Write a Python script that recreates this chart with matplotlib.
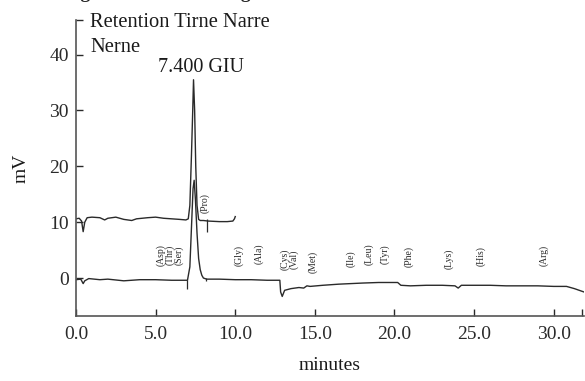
import matplotlib
matplotlib.use("Agg")
import matplotlib.pyplot as plt

plt.rcParams['font.family'] = ['Liberation Serif', 'DejaVu Serif']

# Upper trace (offset ~10 mV)
upper_t = [0.0, 0.2, 0.35, 0.45, 0.55, 0.7, 1.0, 1.5, 1.8, 2.0, 2.5, 3.0, 3.5, 3.8,
           4.5, 5.0, 5.5, 6.0, 6.5, 6.9, 7.05, 7.15, 7.25, 7.33, 7.38, 7.45, 7.52,
           7.6, 7.7, 7.8, 8.0, 8.3, 9.0, 9.5, 9.85, 9.95, 10.0]
upper_v = [10.6, 10.7, 10.2, 8.3, 10.0, 10.8, 10.9, 10.8, 10.4, 10.7, 10.9, 10.5, 10.3, 10.6,
           10.8, 10.9, 10.7, 10.6, 10.5, 10.4, 10.6, 13.0, 22.0, 30.0, 35.5, 30.0, 20.0,
           13.0, 10.5, 10.3, 10.3, 10.2, 10.1, 10.1, 10.2, 10.6, 11.0]

# Lower trace (baseline ~0 mV)
lower_t = [0.0, 0.3, 0.45, 0.55, 0.8, 1.5, 2.0, 3.0, 3.5, 4.0, 5.0, 6.0, 7.0,
           7.15, 7.25, 7.35, 7.42, 7.5, 7.6, 7.7, 7.8, 7.9, 8.0, 8.2, 9.0, 10.0,
           11.0, 12.0, 12.8, 12.85, 12.95, 13.1, 13.5, 14.0, 14.3, 14.5, 14.7,
           15.5, 16.5, 18.0, 19.0, 20.2, 20.4, 21.0, 22.0, 23.0, 23.8, 24.0, 24.2,
           25.0, 26.0, 27.0, 28.0, 29.0, 30.0, 30.8, 31.3, 31.9]
lower_v = [-0.3, -0.2, -1.0, -0.5, -0.1, -0.3, -0.2, -0.5, -0.4, -0.3, -0.3, -0.4, -0.4,
           2.0, 9.0, 16.0, 17.5, 14.0, 8.0, 3.5, 1.5, 0.5, 0.0, -0.2, -0.2, -0.3,
           -0.3, -0.4, -0.4, -2.5, -3.3, -2.2, -1.9, -1.7, -1.8, -1.4, -1.5,
           -1.3, -1.1, -0.9, -0.8, -0.8, -1.3, -1.4, -1.3, -1.3, -1.4, -1.8, -1.3,
           -1.3, -1.3, -1.4, -1.4, -1.4, -1.5, -1.5, -1.9, -2.5]

# Integration event markers (time, top, bottom)
marker_t = [7.0, 8.2, 8.15]
marker_top = [-0.4, 10.6, 0.0]
marker_bot = [-2.0, 8.2, -0.6]

# Amino acid labels
aa_names = ['(Asp)', '(Thr)', '(Ser)', '(Pro)', '(Gly)', '(Ala)', '(Cys)', '(Val)', '(Met)',
            '(Ile)', '(Leu)', '(Tyr)', '(Phe)', '(Lys)', '(His)', '(Arg)']
aa_t = [5.35, 5.9, 6.45, 8.1, 10.25, 11.5, 13.1, 13.65, 14.9,
        17.25, 18.4, 19.4, 20.9, 23.4, 25.4, 29.4]
aa_y = [4.1, 4.1, 4.1, 13.4, 4.1, 4.4, 3.3, 3.3, 2.9,
        3.5, 4.3, 4.2, 3.9, 3.5, 4.0, 4.0]

xticks = [0, 5, 10, 15, 20, 25, 30]
xticklabels = ['0.0', '5.0', '10.0', '15.0', '20.0', '25.0', '30.0']
yticks = [0, 10, 20, 30, 40]
yticklabels = ['0', '10', '20', '30', '40']

fig = plt.figure(figsize=(5.85, 3.81), dpi=100)
ax = fig.add_axes([76/585, 1 - 316/381, (584-76)/585, (316-20)/381])

col = '#2a2a2a'
ax.plot(upper_t, upper_v, color=col, lw=1.0)
ax.plot(lower_t, lower_v, color=col, lw=1.0)
ax.vlines(marker_t, marker_bot, marker_top, color=col, lw=0.9)

for n, t, y in zip(aa_names, aa_t, aa_y):
    ax.text(t, y, n, rotation=90, ha='center', va='center', fontsize=7, color='#2a2a2a')

ax.text(0.9, 45.0, 'Retention Tirne Narre', fontsize=14.8, va='baseline', ha='left', color='#1a1a1a')
ax.text(0.9, 40.5, 'Nerne', fontsize=14.8, va='baseline', ha='left', color='#1a1a1a')
ax.text(7.85, 36.9, '7.400 GIU', fontsize=14.5, va='baseline', ha='center', color='#1a1a1a')

xmax = 31.9
ymin, ymax = -6.8, 46.2
ax.set_xlim(0, xmax)
ax.set_ylim(ymin, ymax)
ax.set_xticks(xticks + [31.75])
ax.set_xticklabels(xticklabels + [''])
ax.set_yticks(yticks + [ymax])
ax.set_yticklabels(yticklabels + [''])
ax.tick_params(direction='in', length=5, width=1, labelsize=14, colors='#2a2a2a')
ax.tick_params(axis='x', pad=7)
ax.tick_params(axis='y', pad=5)
for s in ['top', 'right']:
    ax.spines[s].set_visible(False)
for s in ['left', 'bottom']:
    ax.spines[s].set_color('#555555')
    ax.spines[s].set_linewidth(1.2)

ax.set_xlabel('minutes', fontsize=14, color='#1a1a1a', labelpad=10)
ax.set_ylabel('mV', fontsize=14, color='#1a1a1a', labelpad=14)

fig.text(47/585, 1.0 + 1.5/381, 'Integration Peak Listing', fontsize=14, fontweight='bold',
         va='baseline', ha='left', color='#222222')

fig.savefig('out.png', dpi=100)
